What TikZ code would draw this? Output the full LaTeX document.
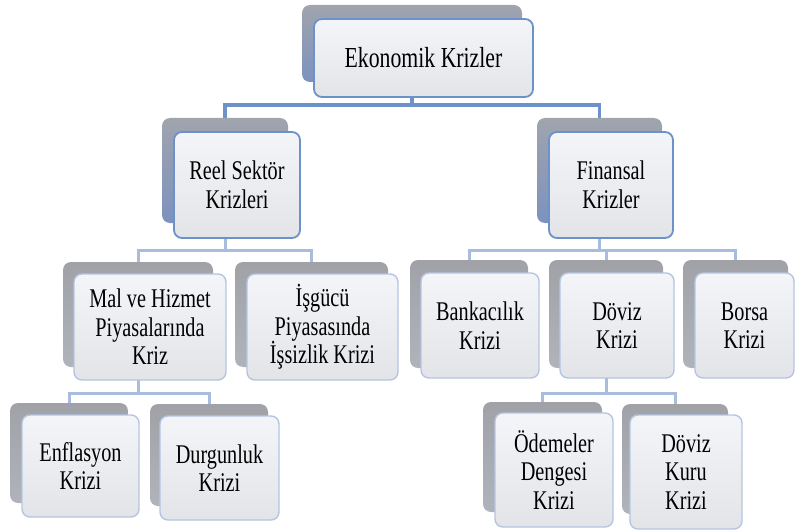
\documentclass[tikz,border=0pt]{standalone}
\usepackage{fontspec}
\setmainfont{Liberation Serif}[FakeStretch=0.75]
\usepackage{xcolor}
\usepackage{tikz}
\usetikzlibrary{positioning,backgrounds}
\definecolor{edgeblue}{RGB}{109,146,201}
\definecolor{edgelight}{RGB}{180,197,226}
\definecolor{linelight}{RGB}{168,188,222}
\definecolor{backtop}{RGB}{160,164,173}
\definecolor{backbot}{RGB}{124,146,190}
\definecolor{greytop}{RGB}{160,162,168}
\definecolor{greybot}{RGB}{176,179,186}
\definecolor{facetop}{RGB}{244,245,248}
\definecolor{facebot}{RGB}{226,228,232}

\begin{document}
\begin{tikzpicture}[x=1pt,y=-1pt,font=\fontsize{27}{28.5}\selectfont,
  bk/.style={rounded corners=8pt,top color=backtop,bottom color=backbot},
  bkl/.style={rounded corners=8pt,top color=greytop,bottom color=greybot},
  fr/.style={rounded corners=8pt,draw=edgeblue,line width=1.8pt,top color=facetop,bottom color=facebot,align=center,inner sep=0pt},
  frl/.style={fr,draw=edgelight,line width=1.4pt},
  ln/.style={draw=edgeblue,line width=3.5pt},
  lnl/.style={draw=linelight,line width=3pt}]
\useasboundingbox (0,0) rectangle (795,532);
% level 1
\node[bk,minimum width=220pt,minimum height=77pt] (ekoB) at (412,43.5) {};
\node[fr,minimum width=219pt,minimum height=78pt,font=\fontsize{29}{29}\selectfont] (eko) at (423.5,58) {Ekonomik Krizler};
% level 2
\node[bk,minimum width=126pt,minimum height=105pt] (reelB) at (225,170.5) {};
\node[fr,minimum width=126pt,minimum height=106pt] (reel) at (237,185) {Reel Sektör\\Krizleri};
\node[bk,minimum width=125pt,minimum height=105pt] (finB) at (599.5,170.5) {};
\node[fr,minimum width=124pt,minimum height=106pt] (fin) at (611,185) {Finansal\\Krizler};
% level 3
\node[bkl,minimum width=150pt,minimum height=105pt] (malB) at (138,314.5) {};
\node[frl,minimum width=152pt,minimum height=106pt] (mal) at (150,327) {Mal ve Hizmet\\Piyasalarında\\Kriz};
\node[bkl,minimum width=153pt,minimum height=105pt] (isgB) at (311.5,314.5) {};
\node[frl,minimum width=151pt,minimum height=106pt] (isg) at (322.5,327) {İşgücü\\Piyasasında\\İşsizlik Krizi};
\node[bkl,minimum width=118pt,minimum height=108pt] (bankB) at (469,314) {};
\node[frl,minimum width=118pt,minimum height=105pt] (bank) at (480,325.5) {Bankacılık\\Krizi};
\node[bkl,minimum width=114pt,minimum height=108pt] (dovB) at (606,314) {};
\node[frl,minimum width=114pt,minimum height=105pt] (dov) at (617,325.5) {Döviz\\Krizi};
\node[bkl,minimum width=105pt,minimum height=108pt] (borB) at (735.5,314) {};
\node[frl,minimum width=99pt,minimum height=105pt] (bor) at (744.5,325.5) {Borsa\\Krizi};
% level 4
\node[bkl,minimum width=118pt,minimum height=100pt] (enfB) at (69,453) {};
\node[frl,minimum width=117pt,minimum height=102pt] (enf) at (80.5,466) {Enflasyon\\Krizi};
\node[bkl,minimum width=118pt,minimum height=102pt] (durB) at (209,455) {};
\node[frl,minimum width=119pt,minimum height=104pt] (dur) at (219.5,468) {Durgunluk\\Krizi};
\node[bkl,minimum width=119pt,minimum height=110pt] (odeB) at (542.5,457) {};
\node[frl,minimum width=118pt,minimum height=114pt] (ode) at (554,470) {Ödemeler\\Dengesi\\Krizi};
\node[bkl,minimum width=106pt,minimum height=110pt] (dkkB) at (675,459) {};
\node[frl,minimum width=112pt,minimum height=114pt] (dkk) at (686,472) {Döviz\\Kuru\\Krizi};
% connectors
\coordinate (j1) at (0,105);
\coordinate (j2) at (0,250);
\coordinate (j3) at (0,393);
\begin{scope}[on background layer]
\draw[ln] (ekoB.south) -- (ekoB.south |- j1) -| (reelB.north);
\draw[ln] (ekoB.south |- j1) -| (finB.north);
\draw[lnl] (reelB.south) -- (reelB.south |- j2) -| (malB.north);
\draw[lnl] (reelB.south |- j2) -| (isgB.north);
\draw[lnl] (finB.south) -- (finB.south |- j2) -| (bankB.north);
\draw[lnl] (finB.south |- j2) -| (dovB.north);
\draw[lnl] (finB.south |- j2) -| (borB.north);
\draw[lnl] (malB.south) -- (malB.south |- j3) -| (enfB.north);
\draw[lnl] (malB.south |- j3) -| (durB.north);
\draw[lnl] (dovB.south) -- (dovB.south |- j3) -| (odeB.north);
\draw[lnl] (dovB.south |- j3) -| (dkkB.north);
\end{scope}
\end{tikzpicture}
\end{document}
